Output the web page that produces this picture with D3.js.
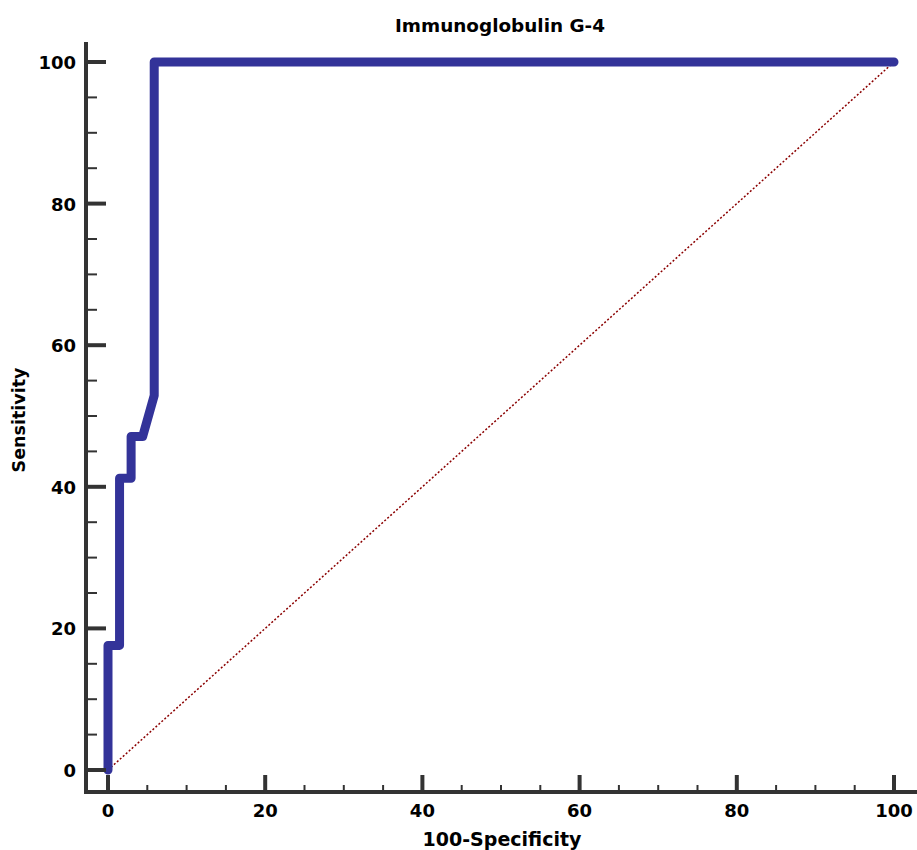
<!DOCTYPE html>
<html>
<head>
<meta charset="utf-8">
<script src="https://cdn.jsdelivr.net/npm/d3@7"></script>
<style>
  body { margin: 0; background: #fff; }
  text { font-family: "DejaVu Sans", sans-serif; font-weight: bold; fill: #000; }
</style>
</head>
<body>
<svg id="chart" width="917" height="850"></svg>
<script>
var fpr = [0, 0, 1.47, 1.47, 2.94, 2.94, 4.41, 5.88, 5.88, 100];
var tpr = [0, 17.6, 17.6, 41.2, 41.2, 47.1, 47.1, 52.9, 100, 100];
var majorTicks = [0, 20, 40, 60, 80, 100];
var minorTicks = d3.range(0, 101, 5).filter(function(d) { return d % 20 !== 0; });

var svg = d3.select("#chart");

var x = d3.scaleLinear().domain([0, 100]).range([108, 894]),
    y = d3.scaleLinear().domain([0, 100]).range([770, 62]);

var axisX = 86, axisY = 792;

// diagonal reference line
svg.append("line")
  .attr("x1", x(0)).attr("y1", y(0))
  .attr("x2", x(100)).attr("y2", y(100))
  .attr("stroke", "#8b0000")
  .attr("stroke-width", 1.5)
  .attr("stroke-dasharray", "2,2");

// ROC curve
var pts = fpr.map(function(d, i) { return [d, tpr[i]]; });
svg.append("path")
  .attr("d", d3.line().x(function(d) { return x(d[0]); }).y(function(d) { return y(d[1]); })(pts))
  .attr("fill", "none")
  .attr("stroke", "#333399")
  .attr("stroke-width", 9)
  .attr("stroke-linejoin", "round")
  .attr("stroke-linecap", "round");

var ax = svg.append("g").attr("stroke", "#333");

// axis lines
ax.append("line").attr("x1", axisX).attr("y1", 42).attr("x2", axisX).attr("y2", axisY + 2).attr("stroke-width", 4);
ax.append("line").attr("x1", axisX - 2).attr("y1", axisY).attr("x2", 917).attr("y2", axisY).attr("stroke-width", 4);

// x ticks
ax.selectAll(".xmaj").data(majorTicks).enter().append("line")
  .attr("x1", function(d) { return x(d); }).attr("x2", function(d) { return x(d); })
  .attr("y1", axisY).attr("y2", axisY - 17).attr("stroke-width", 4);
ax.selectAll(".xmin").data(minorTicks).enter().append("line")
  .attr("x1", function(d) { return x(d); }).attr("x2", function(d) { return x(d); })
  .attr("y1", axisY).attr("y2", axisY - 7).attr("stroke-width", 2);

// y ticks
ax.selectAll(".ymaj").data(majorTicks).enter().append("line")
  .attr("y1", function(d) { return y(d); }).attr("y2", function(d) { return y(d); })
  .attr("x1", axisX).attr("x2", axisX + 20).attr("stroke-width", 4);
ax.selectAll(".ymin").data(minorTicks).enter().append("line")
  .attr("y1", function(d) { return y(d); }).attr("y2", function(d) { return y(d); })
  .attr("x1", axisX).attr("x2", axisX + 11).attr("stroke-width", 2);

// tick labels
svg.selectAll(".xl").data(majorTicks).enter().append("text")
  .attr("x", function(d) { return x(d); }).attr("y", 817)
  .attr("text-anchor", "middle").attr("font-size", 18)
  .text(function(d) { return d; });
svg.selectAll(".yl").data(majorTicks).enter().append("text")
  .attr("x", 76).attr("y", function(d) { return y(d) + 7; })
  .attr("text-anchor", "end").attr("font-size", 18)
  .text(function(d) { return d; });

// titles
svg.append("text").attr("x", 500).attr("y", 32).attr("text-anchor", "middle")
  .attr("font-size", 18.4).text("Immunoglobulin G-4");
svg.append("text").attr("x", 502).attr("y", 846).attr("text-anchor", "middle")
  .attr("font-size", 19).text("100-Specificity");
svg.append("text").attr("transform", "translate(25,420) rotate(-90)").attr("text-anchor", "middle")
  .attr("font-size", 17.5).text("Sensitivity");
</script>
</body>
</html>
